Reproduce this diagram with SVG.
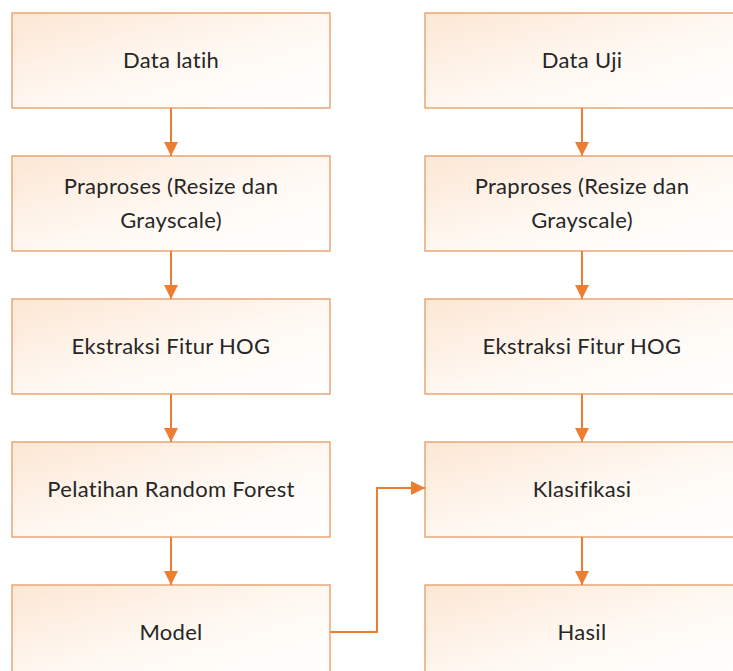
<svg xmlns="http://www.w3.org/2000/svg" width="733" height="671" viewBox="0 0 733 671">
<defs>
<linearGradient id="g" x1="0" y1="0" x2="1" y2="1">
<stop offset="0" stop-color="#fce7d4"/>
<stop offset="0.55" stop-color="#fff9f3"/>
<stop offset="1" stop-color="#ffffff"/>
</linearGradient>
<marker id="ah" markerWidth="14" markerHeight="14" refX="14" refY="7" orient="auto" markerUnits="userSpaceOnUse">
<path d="M0,0 L14,7 L0,14 Z" fill="#ed7d31"/>
</marker>
<style>
.box{fill:url(#g);stroke:#e8a677;stroke-width:1.5}
.t{font-family:Lato,"Liberation Sans",sans-serif;font-size:22px;letter-spacing:0.3px;fill:#262626;text-anchor:middle}
.c{fill:none;stroke:#ed7d31;stroke-width:2}
</style>
</defs>
<rect width="733" height="671" fill="#ffffff"/>
<g id="data-latih"><rect class="box" x="12" y="13" width="318" height="95"/><text class="t" x="171" y="68">Data latih</text></g>
<g id="praproses-1"><rect class="box" x="12" y="156" width="318" height="95"/><text class="t" x="171" y="194">Praproses (Resize dan</text><text class="t" x="171" y="228">Grayscale)</text></g>
<g id="hog-1"><rect class="box" x="12" y="299" width="318" height="95"/><text class="t" x="171" y="354">Ekstraksi Fitur HOG</text></g>
<g id="pelatihan"><rect class="box" x="12" y="442" width="318" height="95"/><text class="t" x="171" y="497">Pelatihan Random Forest</text></g>
<g id="model"><rect class="box" x="12" y="585" width="318" height="95"/><text class="t" x="171" y="640">Model</text></g>
<g id="data-uji"><rect class="box" x="425" y="13" width="315" height="95"/><text class="t" x="582" y="68">Data Uji</text></g>
<g id="praproses-2"><rect class="box" x="425" y="156" width="315" height="95"/><text class="t" x="582" y="194">Praproses (Resize dan</text><text class="t" x="582" y="228">Grayscale)</text></g>
<g id="hog-2"><rect class="box" x="425" y="299" width="315" height="95"/><text class="t" x="582" y="354">Ekstraksi Fitur HOG</text></g>
<g id="klasifikasi"><rect class="box" x="425" y="442" width="315" height="95"/><text class="t" x="582" y="497">Klasifikasi</text></g>
<g id="hasil"><rect class="box" x="425" y="585" width="315" height="95"/><text class="t" x="582" y="640">Hasil</text></g>
<g id="connectors">
<path class="c" d="M171,108 V156" marker-end="url(#ah)"/>
<path class="c" d="M171,251 V299" marker-end="url(#ah)"/>
<path class="c" d="M171,394 V442" marker-end="url(#ah)"/>
<path class="c" d="M171,537 V585" marker-end="url(#ah)"/>
<path class="c" d="M582,108 V156" marker-end="url(#ah)"/>
<path class="c" d="M582,251 V299" marker-end="url(#ah)"/>
<path class="c" d="M582,394 V442" marker-end="url(#ah)"/>
<path class="c" d="M582,537 V585" marker-end="url(#ah)"/>
<path class="c" d="M330,632 H377 V488 H425" marker-end="url(#ah)"/>
</g>
</svg>
